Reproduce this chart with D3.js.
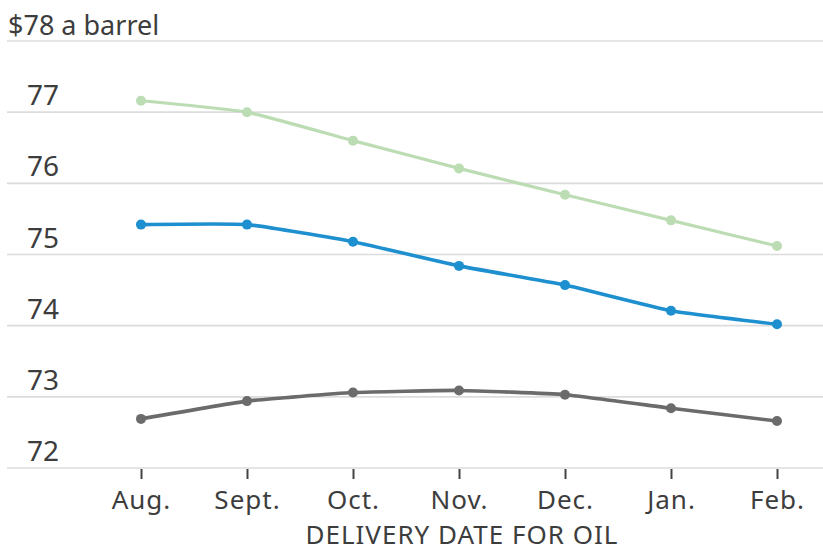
<!DOCTYPE html>
<html>
<head>
<meta charset="utf-8">
<script src="https://cdn.jsdelivr.net/npm/d3@7"></script>
<style>
  html, body { margin: 0; padding: 0; background: #fff; }
  svg { display: block; }
  .ylab { font-family: "Noto Sans", "Open Sans", sans-serif; font-size: 28px; fill: #3d3d3d; }
  .title { font-family: "Noto Sans", "Open Sans", sans-serif; font-size: 27px; fill: #3d3d3d; }
  .xlab { font-family: "Noto Sans", "Open Sans", sans-serif; font-size: 26px; letter-spacing: 1px; fill: #3d3d3d; }
  .xtitle { font-family: "Noto Sans", "Open Sans", sans-serif; font-size: 26px; letter-spacing: 1px; fill: #3d3d3d; }
</style>
</head>
<body>
<svg id="chart" width="823" height="552"></svg>
<script>
// Delivery months for oil futures
const months = ["Aug.", "Sept.", "Oct.", "Nov.", "Dec.", "Jan.", "Feb."];

// Futures curves, $ a barrel
const seriesGreen = [77.16, 77.00, 76.60, 76.21, 75.84, 75.48, 75.12];
const seriesBlue  = [75.42, 75.42, 75.18, 74.84, 74.57, 74.21, 74.02];
const seriesGray  = [72.69, 72.94, 73.06, 73.09, 73.03, 72.84, 72.66];

const yTicks = [72, 73, 74, 75, 76, 77, 78];

const svg = d3.select("#chart");
const W = 823, H = 552;

const x = d3.scalePoint().domain(months).range([141, 777]);
const y = d3.scaleLinear().domain([72, 78]).range([468, 41]);

// horizontal gridlines
svg.append("g")
  .selectAll("line")
  .data(yTicks)
  .join("line")
  .attr("x1", 7).attr("x2", W)
  .attr("y1", d => y(d)).attr("y2", d => y(d))
  .attr("stroke", "#dcdcdc")
  .attr("stroke-width", 1.6);

// y labels sit above their gridline
svg.append("g")
  .selectAll("text")
  .data(yTicks.filter(d => d !== 78))
  .join("text")
  .attr("class", "ylab")
  .attr("x", 27)
  .attr("y", d => y(d) - 7)
  .text(d => d);

svg.append("text")
  .attr("class", "title")
  .attr("x", 8)
  .attr("y", y(78) - 6)
  .text("$78 a barrel");

// x axis ticks and labels
const xAxis = d3.axisBottom(x).tickSize(10).tickPadding(10);
const gx = svg.append("g").attr("transform", `translate(0,${y(72) + 1})`).call(xAxis);
gx.attr("font-size", null).attr("font-family", null);
gx.select(".domain").remove();
gx.selectAll(".tick line").attr("stroke", "#444").attr("stroke-width", 2);
gx.selectAll(".tick text")
  .attr("class", "xlab")
  .attr("dy", null)
  .attr("y", 40)
  .attr("fill", "#3d3d3d");

svg.append("text")
  .attr("class", "xtitle")
  .attr("x", 462)
  .attr("y", 544)
  .attr("text-anchor", "middle")
  .text("DELIVERY DATE FOR OIL");

// lines with dots
const series = [
  { values: seriesGreen, color: "#bcdcb4", width: 3.2 },
  { values: seriesBlue,  color: "#1e8fcf", width: 3.6 },
  { values: seriesGray,  color: "#6b6b6b", width: 3.6 }
];

const line = d3.line()
  .x((d, i) => x(months[i]))
  .y(d => y(d))
  .curve(d3.curveCardinal.tension(0.6));

series.forEach(s => {
  svg.append("path")
    .datum(s.values)
    .attr("d", line)
    .attr("fill", "none")
    .attr("stroke", s.color)
    .attr("stroke-width", s.width)
    .attr("stroke-linejoin", "round");
  svg.append("g")
    .selectAll("circle")
    .data(s.values)
    .join("circle")
    .attr("cx", (d, i) => x(months[i]))
    .attr("cy", d => y(d))
    .attr("r", 5)
    .attr("fill", s.color);
});
</script>
</body>
</html>
